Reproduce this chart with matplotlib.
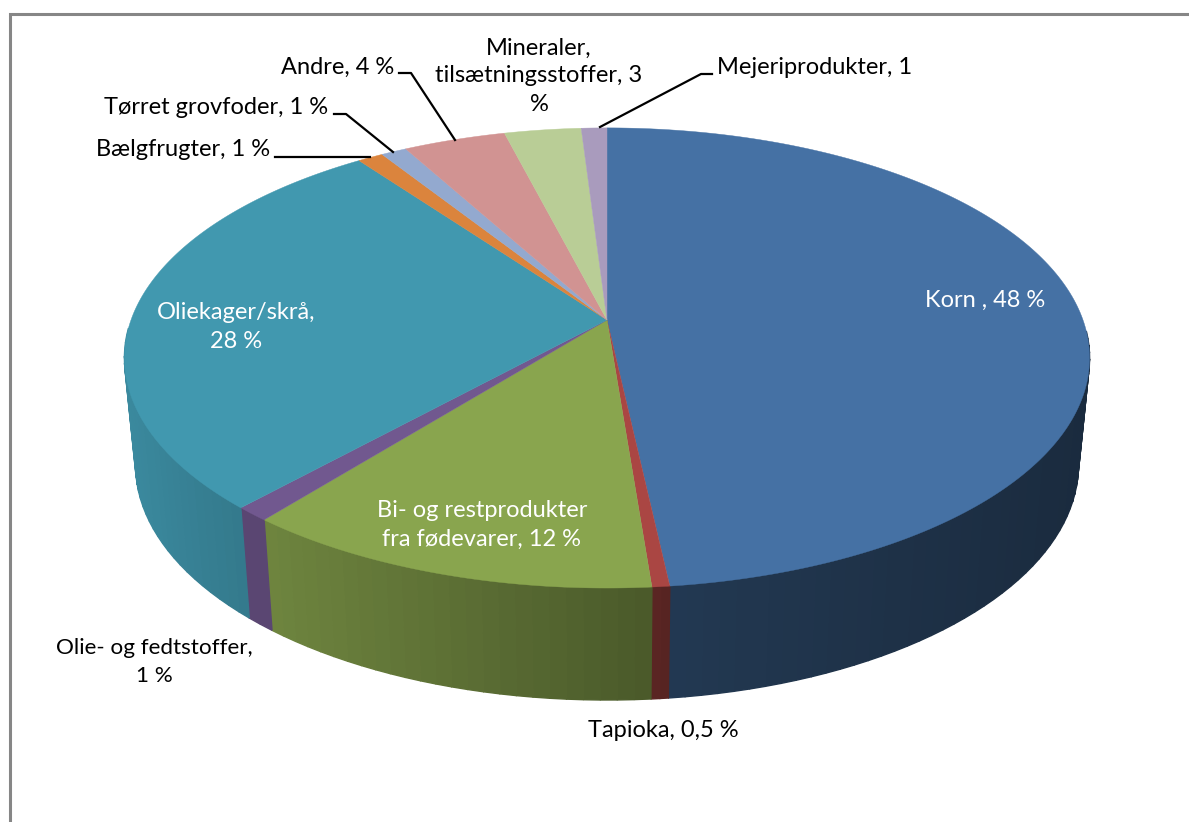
import matplotlib
matplotlib.use('Agg')
import matplotlib.pyplot as plt
import numpy as np

plt.rcParams['font.family'] = ['Lato', 'DejaVu Sans']

names = ['Korn', 'Tapioka', 'Bi- og restprodukter fra fødevarer', 'Olie- og fedtstoffer', 'Oliekager/skrå',
         'Bælgfrugter', 'Tørret grovfoder', 'Andre', 'Mineraler, tilsætningsstoffer', 'Mejeriprodukter']
values = [48, 0.5, 12, 1, 28, 1, 1, 4, 3, 1]
colors = ['#4571A4', '#AA4643', '#89A54E', '#71588F', '#4198AF',
          '#DB843D', '#93A9CF', '#D19392', '#B9CD96', '#A99BBD']

fig = plt.figure(figsize=(11.89, 8.22), dpi=100)
ax = fig.add_axes([0, 0, 1, 1])
ax.set_xlim(0, 1189)
ax.set_ylim(822, 0)
ax.axis('off')

# perspective of the disc, in pixels
cx = 607
k = 0.165


def project(a, y0, rx, ry):
    u = np.sin(a)
    v = np.cos(a)
    return cx + rx * u / (1 + k * v), y0 - ry * v / (1 + k * v)


def top(a):
    return project(a, 320, 476, 223.8)


def bottom(a):
    return project(a, 426, 465, 228.8)


def shade(color, x):
    # side wall gets darker from left to right
    f = np.interp(x, [125, 240, 270, 650, 670, 1090], [0.9, 0.8, 0.8, 0.54, 0.5, 0.38])
    rgb = np.array(matplotlib.colors.to_rgb(color))
    return tuple(rgb * f)


edges = np.cumsum([0] + values) / sum(values) * 2 * np.pi

# side walls
for i in range(len(values)):
    steps = max(2, int((edges[i + 1] - edges[i]) / 0.03))
    a = np.linspace(edges[i], edges[i + 1], steps + 1)
    for j in range(steps):
        if np.cos(a[j]) > -0.05 and np.cos(a[j + 1]) > -0.05:
            continue
        xt, yt = top(a[j:j + 2])
        xb, yb = bottom(a[j:j + 2])
        c = shade(colors[i], xt.mean())
        ax.fill([xt[0], xt[1], xb[1], xb[0]], [yt[0], yt[1], yb[1], yb[0]],
                color=c, lw=1.0, zorder=2)

# top of the pie
for i in range(len(values)):
    a = np.linspace(edges[i], edges[i + 1], 200)
    x, y = top(a)
    ax.fill(np.r_[cx, x], np.r_[320, y], color=colors[i], lw=0.3, zorder=3)

# frame, only top and left are inside the picture
ax.plot([9.5, 9.5, 1200], [830, 14, 14], color='#868686', lw=2.2, zorder=1, solid_joinstyle='miter')

# leader lines
leaders = [([275, 370], [157, 157]),
           ([334, 346, 372, 393], [114, 114, 135, 152]),
           ([399, 411, 455], [73, 73, 140]),
           ([600, 701, 712], [127, 74, 74])]
for lx, ly in leaders:
    ax.plot(lx, ly, color='black', lw=1.6, zorder=4)

fs = 17
sp = 1.42
ax.text(985, 300, 'Korn , 48 %', color='white', fontsize=fs, ha='center', va='center', zorder=5)
ax.text(236, 327, 'Oliekager/skrå,\n28 %', color='white', fontsize=fs, ha='center', va='center', linespacing=sp, zorder=5)
ax.text(482, 525, 'Bi- og restprodukter\nfra fødevarer, 12 %', color='white', fontsize=fs, ha='center', va='center', linespacing=sp, zorder=5)
ax.text(154, 662, 'Olie- og fedtstoffer,\n1 %', color='black', fontsize=16.2, ha='center', va='center', linespacing=1.5, zorder=5)
ax.text(663, 730, 'Tapioka, 0,5 %', color='black', fontsize=fs, ha='center', va='center', zorder=5)
ax.text(270, 150, 'Bælgfrugter, 1 %', color='black', fontsize=fs, ha='right', va='center', zorder=5)
ax.text(328, 108, 'Tørret grovfoder, 1 %', color='black', fontsize=fs, ha='right', va='center', zorder=5)
ax.text(394, 67, 'Andre, 4 %', color='black', fontsize=fs, ha='right', va='center', zorder=5)
ax.text(539, 76, 'Mineraler,\ntilsætningsstoffer, 3\n%', color='black', fontsize=fs, ha='center', va='center', linespacing=sp, zorder=5)
ax.text(717, 68, 'Mejeriprodukter, 1', color='black', fontsize=fs, ha='left', va='center', zorder=5)

fig.savefig('out.png', dpi=100)
